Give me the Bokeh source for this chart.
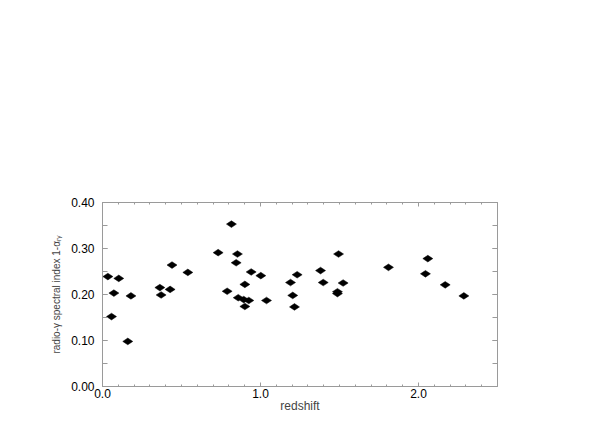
import math
from bokeh.plotting import figure
from bokeh.models import (FixedTicker, LinearAxis, NumeralTickFormatter, Range1d)
from bokeh.embed import file_html
from bokeh.resources import INLINE

# data
redshift = [0.034, 0.103, 0.072, 0.180, 0.057, 0.160, 0.440, 0.540, 0.363, 0.428, 0.371,
            0.816, 0.732, 0.854, 0.846, 0.941, 1.002, 0.901, 0.789, 0.859, 0.894, 0.926, 1.038, 0.901,
            1.494, 1.380, 1.232, 1.190, 1.397, 1.523, 1.487, 1.487, 1.204, 1.215,
            1.810, 2.059, 2.044, 2.169, 2.287]
spectral_index = [0.239, 0.235, 0.203, 0.197, 0.152, 0.098, 0.264, 0.248, 0.215, 0.211, 0.199,
                  0.353, 0.291, 0.288, 0.269, 0.249, 0.241, 0.222, 0.207, 0.193, 0.189, 0.187, 0.187, 0.174,
                  0.288, 0.252, 0.243, 0.226, 0.226, 0.225, 0.206, 0.202, 0.198, 0.173,
                  0.259, 0.278, 0.245, 0.221, 0.197]

x_major = [0.0, 1.0, 2.0]
x_minor = [round(0.1 * i, 1) for i in range(26)]
y_major = [0.0, 0.1, 0.2, 0.3, 0.4]
y_minor = [round(0.05 * i, 2) for i in range(9)]

FONT = "Liberation Sans"
AXIS_COLOR = "#9a9a9a"

p = figure(width=583, height=428, output_backend="svg", toolbar_location=None,
           x_range=Range1d(0, 2.5), y_range=Range1d(0, 0.4),
           x_axis_location=None, y_axis_location=None,
           min_border_left=102, min_border_right=86, min_border_top=202, min_border_bottom=42)
p.grid.visible = False
p.outline_line_color = None
p.background_fill_color = "white"
p.border_fill_color = "white"

def style(ax):
    ax.axis_line_color = AXIS_COLOR
    ax.axis_line_width = 1
    ax.major_tick_line_color = AXIS_COLOR
    ax.minor_tick_line_color = AXIS_COLOR
    ax.major_tick_out = 0
    ax.minor_tick_out = 0
    ax.major_label_text_font = FONT
    ax.major_label_text_font_size = "12px"
    ax.major_label_text_color = "black"

xt = FixedTicker(ticks=x_major, minor_ticks=x_minor)
yt = FixedTicker(ticks=y_major, minor_ticks=y_minor)

bottom = LinearAxis(ticker=xt, formatter=NumeralTickFormatter(format="0.0"))
style(bottom)
bottom.major_tick_in = 4
bottom.minor_tick_in = 2
bottom.major_label_standoff = 2
bottom.axis_label = "redshift"
bottom.axis_label_text_font = FONT
bottom.axis_label_text_font_size = "12px"
bottom.axis_label_text_font_style = "normal"
bottom.axis_label_standoff = -2
p.add_layout(bottom, "below")

top = LinearAxis(ticker=xt)
style(top)
top.major_tick_in = 4
top.minor_tick_in = 2
top.major_label_overrides = {t: "" for t in x_major}
p.add_layout(top, "above")

left = LinearAxis(ticker=yt, formatter=NumeralTickFormatter(format="0.00"))
style(left)
left.major_tick_in = 5
left.minor_tick_in = 5
left.major_label_standoff = 8
left.axis_label = "radio-γ spectral index 1-αᵣᵧ"
left.axis_label_text_font = FONT
left.axis_label_text_font_size = "10px"
left.axis_label_text_font_style = "normal"
left.axis_label_standoff = 6
p.add_layout(left, "left")

right = LinearAxis(ticker=yt)
style(right)
right.major_tick_in = 5
right.minor_tick_in = 5
right.major_label_overrides = {t: "" for t in y_major}
p.add_layout(right, "right")

p.scatter(redshift, spectral_index, marker="diamond", size=10, angle=math.pi / 2,
          fill_color="black", line_color="black", line_width=0.5)

open("out.html", "w").write(file_html(p, INLINE))
